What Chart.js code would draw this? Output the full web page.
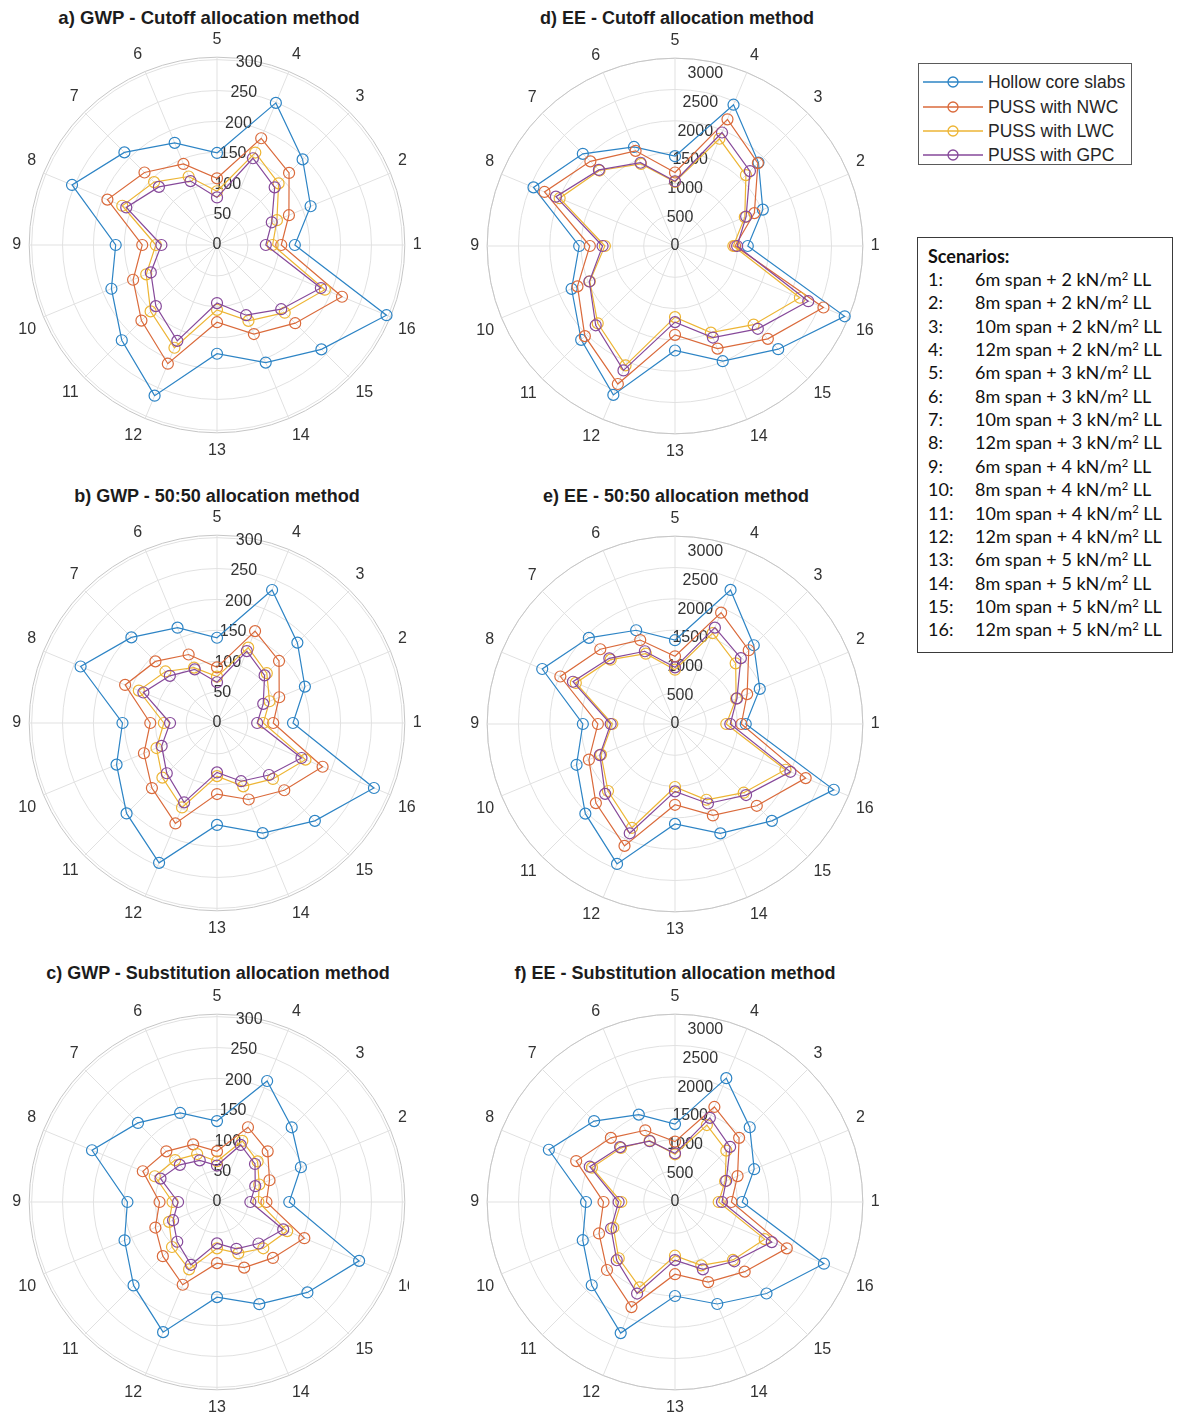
<!DOCTYPE html>
<html>
<head>
<meta charset="utf-8">
<script src="https://cdn.jsdelivr.net/npm/chart.js@4.4.1/dist/chart.umd.min.js"></script>
<style>
  html, body { margin: 0; padding: 0; background: #ffffff; }
  #page { position: relative; width: 1177px; height: 1415px; overflow: hidden; background: #ffffff;
          font-family: 'Liberation Sans', Arial, Helvetica, sans-serif; }
  .panel { position: absolute; width: 430px; height: 430px; }
  .clip { position: absolute; overflow: hidden; }
  .title { position: absolute; font-weight: bold; font-size: 18px; color: #1c1c1c; white-space: nowrap;
           transform: translate(-50%, -50%); line-height: 22px; }
  #legend { position: absolute; left: 918px; top: 63px; width: 212px; height: 100px;
            border: 1px solid #5a5a5a; background: #fff; }
  .lg-row { position: absolute; left: 0; height: 20px; width: 212px; }
  .lg-row svg { position: absolute; left: 4px; top: 4px; }
  .lg-row span { position: absolute; left: 69px; top: 0; line-height: 20px; font-size: 17.5px; color: #262626; white-space: nowrap; }
  #scen { position: absolute; left: 917px; top: 237px; width: 254px; height: 414px;
          border: 1px solid #3a3a3a; background: #fff; font-family: Lato, 'Open Sans', sans-serif; color: #111; }
  .sc-row { position: absolute; left: 0; width: 254px; height: 22px; line-height: 22px; font-size: 18px; white-space: nowrap; }
  .sc-row .n { position: absolute; left: 10px; }
  .sc-row .t { position: absolute; left: 57px; }
  .sc-row sup { font-size: 0.62em; vertical-align: 0; position: relative; top: -0.55em; }
  .sc-head { font-weight: bold; }
</style>
</head>
<body>
<div id="page"></div>
<script>
// ---- scenario axis ----
const SCENARIOS = ['1','2','3','4','5','6','7','8','9','10','11','12','13','14','15','16'];
const SCENARIO_SPANS = [6, 8, 10, 12, 6, 8, 10, 12, 6, 8, 10, 12, 6, 8, 10, 12];
const SCENARIO_LOADS = [2, 2, 2, 2, 3, 3, 3, 3, 4, 4, 4, 4, 5, 5, 5, 5];

// ---- series ----
const SERIES_NAMES = ['Hollow core slabs', 'PUSS with NWC', 'PUSS with LWC', 'PUSS with GPC'];

// ---- radial tick labels ----
const gwpTicks = [0, 50, 100, 150, 200, 250, 300];
const eeTicks = [0, 500, 1000, 1500, 2000, 2500, 3000];

// ---- a) GWP, cutoff allocation (scenario 1..16) ----
const gwpCutoffHollow = [126, 164, 196, 249, 149, 179, 212, 254, 164, 185, 218, 264, 176, 206, 239, 297];
const gwpCutoffNWC    = [104, 126, 165, 187, 108, 142, 166, 192, 121, 147, 173, 208, 125, 156, 179, 219];
const gwpCutoffLWC    = [ 90, 105, 141, 162,  87, 120, 144, 166,  99, 124, 152, 180, 105, 133, 155, 189];
const gwpCutoffGPC    = [ 79,  96, 132, 152,  77, 112, 133, 159,  90, 116, 140, 168,  94, 123, 147, 182];

// ---- b) GWP, 50:50 allocation ----
const gwp5050Hollow = [123, 154, 184, 233, 138, 167, 196, 239, 153, 176, 207, 245, 165, 193, 224, 275];
const gwp5050NWC    = [ 91, 109, 142, 161,  90, 120, 141, 161, 108, 128, 149, 176, 115, 134, 154, 185];
const gwp5050LWC    = [ 75,  92, 114, 132,  75,  97, 118, 137,  86, 106, 125, 148,  86, 111, 128, 155];
const gwp5050GPC    = [ 65,  81, 109, 126,  66,  94, 108, 129,  76,  97, 115, 139,  80, 102, 119, 148];

// ---- c) GWP, substitution allocation ----
const gwpSubstHollow = [117, 147, 171, 212, 131, 156, 181, 219, 145, 162, 191, 228, 154, 179, 207, 249];
const gwpSubstNWC    = [ 80,  92, 116, 131,  82, 101, 116, 130,  93, 108, 124, 145,  99, 115, 128, 153];
const gwpSubstLWC    = [ 67,  74,  93, 107,  66,  84,  96, 109,  72,  84, 103, 118,  75,  90, 106, 123];
const gwpSubstGPC    = [ 54,  67,  87, 100,  59,  73,  85,  99,  63,  77,  91, 110,  67,  82,  95, 116];

// ---- d) EE, cutoff allocation ----
const eeCutoffHollow = [1248, 1630, 2024, 2622, 1540, 1838, 2235, 2626, 1643, 1919, 2275, 2763, 1792, 2138, 2502, 3149];
const eeCutoffNWC    = [1030, 1473, 2010, 2351, 1260, 1766, 2052, 2422, 1460, 1810, 2186, 2561, 1523, 1905, 2251, 2755];
const eeCutoffLWC    = [1000, 1295, 1720, 1990, 1099, 1523, 1830, 2141, 1202, 1581, 1874, 2216, 1219, 1608, 1907, 2318];
const eeCutoffGPC    = [1065, 1320, 1817, 2106, 1110, 1545, 1845, 2210, 1242, 1590, 1923, 2309, 1305, 1699, 2008, 2473];

// ---- e) EE, 50:50 allocation ----
const ee5050Hollow = [1213, 1573, 1910, 2488, 1437, 1740, 2089, 2464, 1580, 1827, 2174, 2597, 1713, 2030, 2349, 2947];
const ee5050NWC    = [1138, 1339, 1788, 2066, 1161, 1558, 1812, 2128, 1322, 1598, 1918, 2262, 1385, 1697, 1983, 2425];
const ee5050LWC    = [ 879, 1134, 1471, 1687,  931, 1305, 1560, 1841, 1075, 1373, 1625, 1926, 1080, 1406, 1666, 2050];
const ee5050GPC    = [ 948, 1150, 1597, 1788,  971, 1350, 1592, 1894, 1103, 1394, 1694, 2028, 1155, 1475, 1723, 2142];

// ---- f) EE, substitution allocation ----
const eeSubstHollow = [1152, 1469, 1812, 2298, 1336, 1622, 1962, 2341, 1526, 1712, 2019, 2433, 1612, 1893, 2219, 2764];
const eeSubstNWC    = [ 967, 1161, 1555, 1764, 1036, 1331, 1555, 1834, 1226, 1410, 1649, 1950, 1238, 1486, 1689, 2075];
const eeSubstLWC    = [ 749,  930, 1245, 1428,  818, 1138, 1311, 1541,  921, 1145, 1364, 1584,  921, 1176, 1405, 1664];
const eeSubstGPC    = [ 806,  950, 1336, 1562,  835, 1128, 1331, 1582,  967, 1187, 1413, 1699,  996, 1251, 1438, 1796];

// ---- styling ----
const SERIES_COLORS = ['#2d84c5', '#da6a3b', '#edb534', '#86499a'];
const GRID_COLOR = '#e1e1e1';
const EDGE_COLOR = '#c6c6c6';
const TEXT_COLOR = '#333333';
const AXIS_FONT = "'Liberation Sans', Arial, Helvetica, sans-serif";
const GWP_LIMIT = 304;   // radial limit of the GWP panels
const EE_LIMIT = 3220;   // radial limit of the EE panels

const PANELS = [
  { title: 'a) GWP - Cutoff allocation method', series: [gwpCutoffHollow, gwpCutoffNWC, gwpCutoffLWC, gwpCutoffGPC],
    ticks: gwpTicks, limit: GWP_LIMIT, cx: 217, cy: 245, tx: 209, ty: 18, titleSize: 18.6 },
  { title: 'b) GWP - 50:50 allocation method', series: [gwp5050Hollow, gwp5050NWC, gwp5050LWC, gwp5050GPC],
    ticks: gwpTicks, limit: GWP_LIMIT, cx: 217, cy: 723, tx: 217, ty: 496 },
  { title: 'c) GWP - Substitution allocation method', series: [gwpSubstHollow, gwpSubstNWC, gwpSubstLWC, gwpSubstGPC],
    ticks: gwpTicks, limit: GWP_LIMIT, cx: 217, cy: 1202, tx: 218, ty: 973, clipRight: 409 },
  { title: 'd) EE - Cutoff allocation method', series: [eeCutoffHollow, eeCutoffNWC, eeCutoffLWC, eeCutoffGPC],
    ticks: eeTicks, limit: EE_LIMIT, cx: 675, cy: 246, tx: 677, ty: 18 },
  { title: 'e) EE - 50:50 allocation method', series: [ee5050Hollow, ee5050NWC, ee5050LWC, ee5050GPC],
    ticks: eeTicks, limit: EE_LIMIT, cx: 675, cy: 724, tx: 676, ty: 496 },
  { title: 'f) EE - Substitution allocation method', series: [eeSubstHollow, eeSubstNWC, eeSubstLWC, eeSubstGPC],
    ticks: eeTicks, limit: EE_LIMIT, cx: 675, cy: 1202, tx: 675, ty: 973 }
];

// Scenario 5 sits at the top and numbering runs counter-clockwise (1 on the right),
// so going clockwise from the top the scenario index is (4 - k) mod 16.
const N = SCENARIOS.length;
const clockwiseIndex = Array.from({ length: N }, (_, k) => (((4 - k) % N) + N) % N);

// Radial tick labels drawn along the 80 degree direction, centred on each ring.
const rTickLabels = {
  id: 'rTickLabels',
  beforeDatasetsDraw(chart, args, opts) {
    const scale = chart.scales.r;
    const ctx = chart.ctx;
    const a = opts.angle * Math.PI / 180;
    ctx.save();
    ctx.font = '16px ' + AXIS_FONT;
    ctx.fillStyle = TEXT_COLOR;
    ctx.textAlign = 'center';
    ctx.textBaseline = 'middle';
    opts.values.forEach(v => {
      const d = scale.getDistanceFromCenterForValue(v);
      ctx.fillText(String(v), scale.xCenter + d * Math.cos(a), scale.yCenter - d * Math.sin(a));
    });
    ctx.restore();
  }
};

const page = document.getElementById('page');

PANELS.forEach(p => {
  const size = 430;
  const left = p.cx - size / 2;
  const top = p.cy - size / 2;

  let host = page;
  const box = document.createElement('div');
  box.className = 'panel';
  if (p.clipRight) {
    const clip = document.createElement('div');
    clip.className = 'clip';
    clip.style.left = left + 'px';
    clip.style.top = top + 'px';
    clip.style.width = (p.clipRight - left) + 'px';
    clip.style.height = size + 'px';
    page.appendChild(clip);
    host = clip;
    box.style.left = '0px';
    box.style.top = '0px';
  } else {
    box.style.left = left + 'px';
    box.style.top = top + 'px';
  }
  const canvas = document.createElement('canvas');
  box.appendChild(canvas);
  host.appendChild(box);

  const t = document.createElement('div');
  t.className = 'title';
  t.textContent = p.title;
  t.style.left = p.tx + 'px';
  t.style.top = p.ty + 'px';
  if (p.titleSize) t.style.fontSize = p.titleSize + 'px';
  page.appendChild(t);

  const datasets = p.series.map((vals, s) => ({
    label: SERIES_NAMES[s],
    data: clockwiseIndex.map(i => vals[i]),
    borderColor: SERIES_COLORS[s],
    pointBorderColor: SERIES_COLORS[s],
    backgroundColor: 'rgba(0,0,0,0)',
    pointBackgroundColor: 'rgba(0,0,0,0)',
    borderWidth: 1.2,
    pointBorderWidth: 1.2,
    pointRadius: 5.5,
    pointHoverRadius: 5.5,
    fill: false,
    tension: 0,
    order: SERIES_NAMES.length - s
  }));

  new Chart(canvas, {
    type: 'radar',
    data: { labels: clockwiseIndex.map(i => SCENARIOS[i]), datasets },
    options: {
      responsive: true,
      maintainAspectRatio: false,
      animation: false,
      devicePixelRatio: 1,
      layout: { padding: 0 },
      plugins: {
        legend: { display: false },
        tooltip: { enabled: false },
        rTickLabels: { values: p.ticks, angle: 80 }
      },
      scales: {
        r: {
          min: 0,
          max: p.limit,
          startAngle: 0,
          ticks: { display: false, stepSize: p.ticks[1] - p.ticks[0], includeBounds: false },
          afterBuildTicks: scale => { scale.ticks.push({ value: scale.max }); },
          grid: {
            circular: true,
            lineWidth: 1,
            color: c => (c.index === c.scale.ticks.length - 1 ? EDGE_COLOR : GRID_COLOR)
          },
          angleLines: { display: true, color: GRID_COLOR, lineWidth: 1 },
          pointLabels: { display: true, padding: 8, color: TEXT_COLOR, font: { family: AXIS_FONT, size: 16 } }
        }
      }
    },
    plugins: [rTickLabels]
  });
});

// ---- series key ----
const legend = document.createElement('div');
legend.id = 'legend';
const legendRowCentres = [18, 42.5, 67, 91];
SERIES_NAMES.forEach((name, s) => {
  const row = document.createElement('div');
  row.className = 'lg-row';
  row.style.top = (legendRowCentres[s] - 10) + 'px';
  row.innerHTML =
    '<svg width="62" height="12" viewBox="0 0 62 12">' +
    '<line x1="0" y1="6" x2="60" y2="6" stroke="' + SERIES_COLORS[s] + '" stroke-width="1.3"/>' +
    '<circle cx="30" cy="6" r="5" fill="none" stroke="' + SERIES_COLORS[s] + '" stroke-width="1.3"/></svg>' +
    '<span></span>';
  row.querySelector('span').textContent = name;
  legend.appendChild(row);
});
page.appendChild(legend);

// ---- scenario key ----
const scen = document.createElement('div');
scen.id = 'scen';
const head = document.createElement('div');
head.className = 'sc-row sc-head';
head.style.top = (18 - 11) + 'px';
head.innerHTML = '<span class="n">Scenarios:</span>';
scen.appendChild(head);
SCENARIOS.forEach((s, k) => {
  const row = document.createElement('div');
  row.className = 'sc-row';
  row.style.top = (41 + 23.35 * k - 11) + 'px';
  row.innerHTML = '<span class="n">' + s + ':</span><span class="t">' + SCENARIO_SPANS[k] +
    'm span + ' + SCENARIO_LOADS[k] + ' kN/m<sup>2</sup> LL</span>';
  scen.appendChild(row);
});
page.appendChild(scen);
</script>
</body>
</html>
